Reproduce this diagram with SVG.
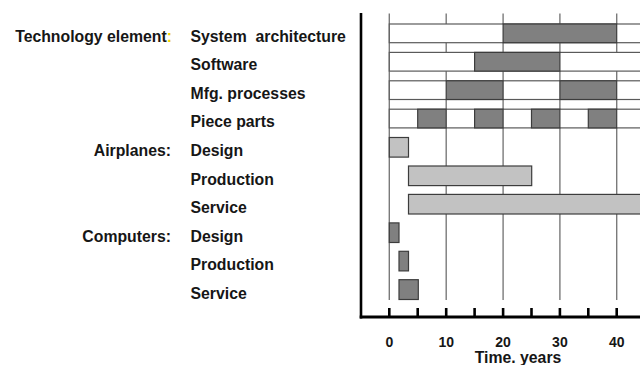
<svg xmlns="http://www.w3.org/2000/svg" width="640" height="365" viewBox="0 0 640 365">
<style>
  text { font-family: "Liberation Sans", Arial, sans-serif; font-weight: bold; fill: #161616; }
  .lbl { font-size: 15.8px; }
  .num { font-size: 14px; text-anchor: middle; }
  .grid { stroke: #7a7a7a; stroke-width: 1.4; fill: none; }
  .tick { stroke: #000; stroke-width: 2.6; }
  .rowbg { fill: #ffffff; stroke: #5a5a5a; stroke-width: 1.2; }
  .dark { fill: #808080; stroke: #3c3c3c; stroke-width: 1.2; }
  .light { fill: #c2c2c2; stroke: #3c3c3c; stroke-width: 1.2; }
</style>
<rect width="640" height="365" fill="#ffffff"/>

<g id="grid">
  <line class="grid" x1="389.3" y1="13.5" x2="389.3" y2="300"/>
  <line class="grid" x1="446.2" y1="13.5" x2="446.2" y2="300"/>
  <line class="grid" x1="503.1" y1="13.5" x2="503.1" y2="300"/>
  <line class="grid" x1="559.9" y1="13.5" x2="559.9" y2="300"/>
  <line class="grid" x1="616.7" y1="13.5" x2="616.7" y2="300"/>
</g>

<g id="axes">
  <line x1="361" y1="13" x2="361" y2="318.5" stroke="#000" stroke-width="2.6"/>
  <line x1="359.7" y1="317" x2="640" y2="317" stroke="#000" stroke-width="3"/>
  <line class="tick" x1="389.3" y1="308" x2="389.3" y2="317"/>
  <line class="tick" x1="417.7" y1="308" x2="417.7" y2="317"/>
  <line class="tick" x1="446.2" y1="308" x2="446.2" y2="317"/>
  <line class="tick" x1="474.6" y1="308" x2="474.6" y2="317"/>
  <line class="tick" x1="503.1" y1="308" x2="503.1" y2="317"/>
  <line class="tick" x1="531.5" y1="308" x2="531.5" y2="317"/>
  <line class="tick" x1="559.9" y1="308" x2="559.9" y2="317"/>
  <line class="tick" x1="588.3" y1="308" x2="588.3" y2="317"/>
  <line class="tick" x1="616.7" y1="308" x2="616.7" y2="317"/>
  <text class="num" x="389.3" y="347">0</text>
  <text class="num" x="446.2" y="347">10</text>
  <text class="num" x="503.1" y="347">20</text>
  <text class="num" x="559.9" y="347">30</text>
  <text class="num" x="616.7" y="347">40</text>
  <text class="lbl" x="518" y="363" text-anchor="middle">Time. years</text>
</g>

<g id="group-labels">
  <text class="lbl" x="172" y="41.5" text-anchor="end">Technology element<tspan fill="#f2d400">:</tspan></text>
  <text class="lbl" x="171" y="156" text-anchor="end">Airplanes:</text>
  <text class="lbl" x="171" y="241.5" text-anchor="end">Computers:</text>
</g>

<g id="row-system-architecture">
  <text class="lbl" x="190.5" y="41.5" xml:space="preserve">System  architecture</text>
  <rect class="rowbg" x="389.3" y="24" width="270" height="18.7"/>
  <rect class="dark" x="503.1" y="24" width="113.6" height="18.7"/>
</g>
<g id="row-software">
  <text class="lbl" x="190.5" y="70">Software</text>
  <rect class="rowbg" x="389.3" y="52.4" width="270" height="18.7"/>
  <rect class="dark" x="474.6" y="52.4" width="85.3" height="18.7"/>
</g>
<g id="row-mfg-processes">
  <text class="lbl" x="190.5" y="98.5">Mfg. processes</text>
  <rect class="rowbg" x="389.3" y="80.8" width="270" height="18.7"/>
  <rect class="dark" x="446.2" y="80.8" width="56.9" height="18.7"/>
  <rect class="dark" x="559.9" y="80.8" width="56.8" height="18.7"/>
</g>
<g id="row-piece-parts">
  <text class="lbl" x="190.5" y="127">Piece parts</text>
  <rect class="rowbg" x="389.3" y="109.2" width="270" height="18.7"/>
  <rect class="dark" x="417.7" y="109.2" width="28.5" height="18.7"/>
  <rect class="dark" x="474.6" y="109.2" width="28.5" height="18.7"/>
  <rect class="dark" x="531.5" y="109.2" width="28.4" height="18.7"/>
  <rect class="dark" x="588.3" y="109.2" width="28.4" height="18.7"/>
</g>
<g id="row-airplanes-design">
  <text class="lbl" x="190.5" y="156">Design</text>
  <rect class="light" x="389.3" y="137.5" width="19.2" height="19.6"/>
</g>
<g id="row-airplanes-production">
  <text class="lbl" x="190.5" y="184.5">Production</text>
  <rect class="light" x="408.5" y="166" width="123.2" height="19.6"/>
</g>
<g id="row-airplanes-service">
  <text class="lbl" x="190.5" y="213">Service</text>
  <rect class="light" x="408.5" y="194.4" width="250" height="19.6"/>
</g>
<g id="row-computers-design">
  <text class="lbl" x="190.5" y="241.5">Design</text>
  <rect class="dark" x="389.3" y="222.9" width="9.7" height="19.6"/>
</g>
<g id="row-computers-production">
  <text class="lbl" x="190.5" y="270">Production</text>
  <rect class="dark" x="399" y="251.3" width="9.5" height="19.6"/>
</g>
<g id="row-computers-service">
  <text class="lbl" x="190.5" y="298.5">Service</text>
  <rect class="dark" x="399" y="279.7" width="19.3" height="19.8"/>
</g>
</svg>
